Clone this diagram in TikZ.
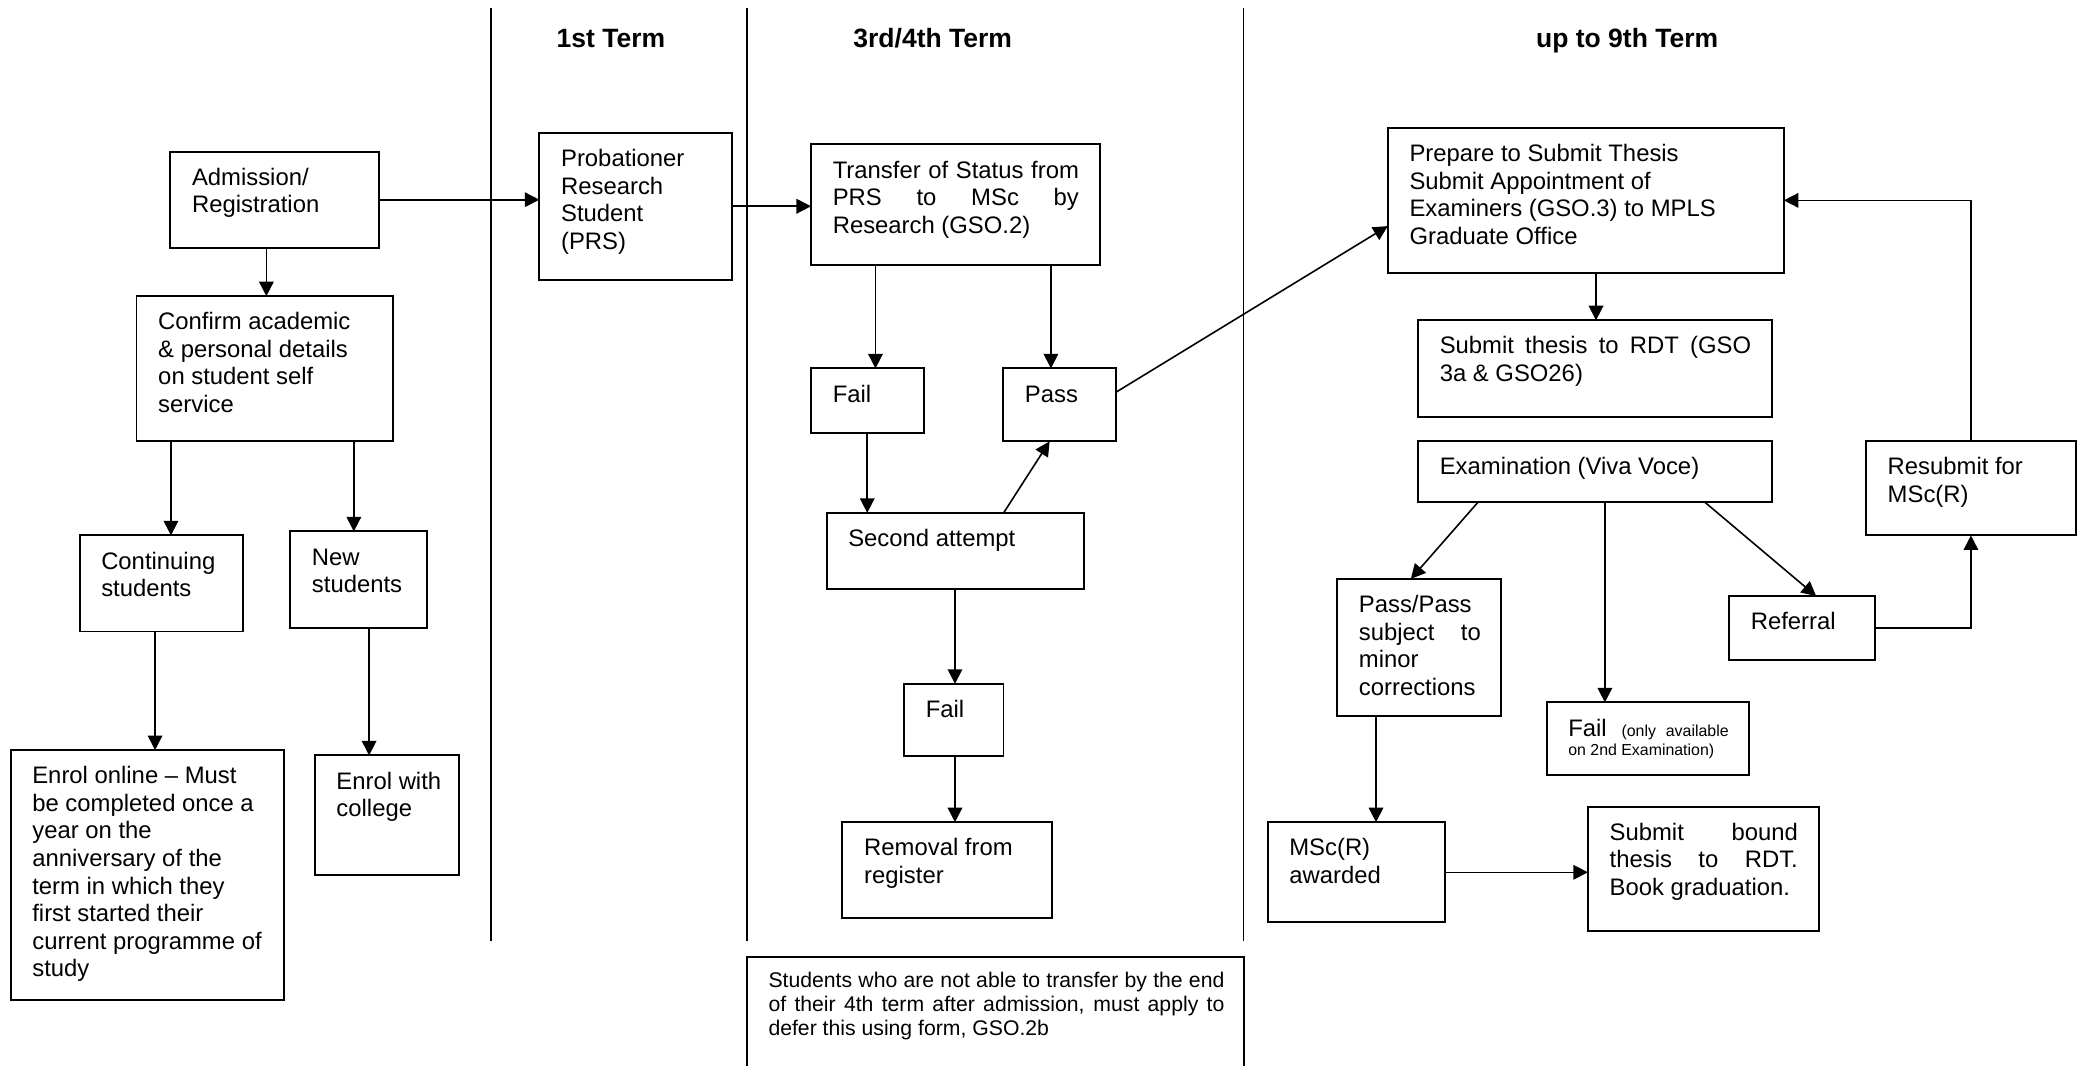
\documentclass[tikz,border=0pt]{standalone}
\usepackage{fontspec}
\setmainfont{Liberation Sans}
\usetikzlibrary{arrows.meta}
\newcommand\mkbox[5]{%
  \pgfmathsetmacro\mkboxw{(#4-#2)*0.5}%
  \pgfmathsetmacro\mkboxh{(#5-#3)*0.5}%
  \node[boxst, minimum width=\mkboxw pt, minimum height=\mkboxh pt, anchor=north west] (#1) at (#2,#3) {};}
\newcommand\mktext[3]{\node[txt] (#1) at ([xshift=8pt,yshift=-5.5pt]#2.north west) {\rule{0pt}{7pt}#3};}
\newcommand\jline[2]{\makebox[#1][s]{#2}}
\begin{document}
\begin{tikzpicture}[x=0.5pt,y=-0.5pt,
  boxst/.style={draw, line width=0.75pt, inner sep=0pt, outer sep=0pt},
  txt/.style={anchor=north west, inner sep=0pt, align=left, font=\fontsize{9}{10.4}\selectfont},
  head/.style={anchor=base, inner sep=0pt, font=\fontsize{10}{12}\selectfont\bfseries},
  divider/.style={line width=0.55pt},
  conn/.style={line width=0.6pt, -{Triangle[length=5.5pt,width=5.5pt]}},
  plain/.style={line width=0.6pt}]
\fill[white] (0,0) rectangle (1568,804);
\useasboundingbox (0,0) rectangle (1568,804);

% dividers
\draw[divider] (370.4,5.7) -- (370.4,710.3);
\draw[divider] (563.5,5.7) -- (563.5,710.3);
\draw[divider] (938.4,5.7) -- (938.4,710.3);

% headings
\node[head] (h1) at (461,35.7) {1st Term};
\node[head] (h2) at (703.8,35.7) {3rd/4th Term};
\node[head] (h3) at (1227.8,35.7) {up to 9th Term};

% boxes
\mkbox{adm}{128.5}{114.4}{286}{187}
\mkbox{prs}{407}{100.3}{552}{211}
\mkbox{tr}{612}{109}{829.7}{200}
\mkbox{prep}{1047.2}{96.6}{1346}{205.8}
\mkbox{conf}{103}{223.5}{296.5}{332.5}
\mkbox{cont}{60}{404}{183}{476.5}
\mkbox{new}{219}{401}{322.5}{474}
\mkbox{enon}{8}{566}{214}{754.6}
\mkbox{enco}{237.5}{570}{346.6}{660}
\mkbox{fa}{612}{278}{697}{327}
\mkbox{pass}{757}{278}{842}{333}
\mkbox{sec}{623.7}{387}{817.6}{444.6}
\mkbox{fb}{682.2}{516}{757.2}{570.4}
\mkbox{rem}{635.7}{620.4}{793.5}{692.6}
\mkbox{sub}{1070}{241.7}{1337}{314.7}
\mkbox{exam}{1070}{332.7}{1337}{379}
\mkbox{resub}{1408}{332.7}{1566.4}{404}
\mkbox{pp}{1009}{436.8}{1132.6}{540.2}
\mkbox{ref}{1304.7}{449.8}{1414.5}{498.3}
\mkbox{fx}{1167}{530}{1320}{584.5}
\mkbox{msc}{956.5}{620.4}{1090.5}{696}
\mkbox{bnd}{1198.2}{608.7}{1372.4}{702.5}
\mkbox{note}{563.5}{722}{938.4}{830}

% texts
\mktext{tadm}{adm}{Admission/\\Registration}
\mktext{tprs}{prs}{Probationer\\Research\\Student\\(PRS)}
\mktext{ttr}{tr}{\jline{92.85pt}{Transfer of Status from}\\\jline{92.85pt}{PRS to MSc by}\\Research (GSO.2)}
\mktext{tprep}{prep}{Prepare to Submit Thesis\\Submit Appointment of\\Examiners (GSO.3) to MPLS\\Graduate Office}
\mktext{tconf}{conf}{Confirm academic\\\& personal details\\on student self\\service}
\mktext{tcont}{cont}{Continuing\\students}
\mktext{tnew}{new}{New\\students}
\mktext{tenon}{enon}{Enrol online – Must\\be completed once a\\year on the\\anniversary of the\\term in which they\\first started their\\current programme of\\study}
\mktext{tenco}{enco}{Enrol with\\college}
\mktext{tfa}{fa}{Fail}
\mktext{tpass}{pass}{Pass}
\mktext{tsec}{sec}{Second attempt}
\mktext{tfb}{fb}{Fail}
\mktext{trem}{rem}{Removal from\\register}
\mktext{tsub}{sub}{\jline{117.5pt}{Submit thesis to RDT (GSO}\\3a \& GSO26)}
\mktext{texam}{exam}{Examination (Viva Voce)}
\mktext{tresub}{resub}{Resubmit for\\MSc(R)}
\mktext{tpp}{pp}{Pass/Pass\\\jline{46pt}{subject to}\\minor\\corrections}
\mktext{tref}{ref}{Referral}
\mktext{tfx}{fx}{\jline{60.5pt}{Fail {\fontsize{6}{7}\selectfont (only available}}\\[-3.25pt]{\fontsize{6}{7}\selectfont on 2nd Examination)}}
\mktext{tmsc}{msc}{MSc(R)\\awarded}
\mktext{tbnd}{bnd}{\jline{71pt}{Submit bound}\\\jline{71pt}{thesis to RDT.}\\Book graduation.}
\node[txt, font=\fontsize{8}{9}\selectfont] (tnote) at ([xshift=8pt,yshift=-4.85pt]note.north west)
  {\rule{0pt}{6.5pt}\jline{172pt}{Students who are not able to transfer by the end}\\\jline{172pt}{of their 4th term after admission, must apply to}\\defer this using form, GSO.2b};

% connectors
\draw[conn] (adm.east) -- (adm.east -| prs.west);
\draw[conn] (prs.east) -- (prs.east -| tr.west);
\draw[conn] (201,0 |- adm.south) -- (201,0 |- conf.north);
\draw[conn] (129,0 |- conf.south) -- (129,0 |- cont.north);
\draw[conn] (267,0 |- conf.south) -- (267,0 |- new.north);
\draw[conn] (117,0 |- cont.south) -- (117,0 |- enon.north);
\draw[conn] (278.5,0 |- new.south) -- (278.5,0 |- enco.north);
\draw[conn] (660.6,0 |- tr.south) -- (660.6,0 |- fa.north);
\draw[conn] (793,0 |- tr.south) -- (793,0 |- pass.north);
\draw[conn] (654.4,0 |- fa.south) -- (654.4,0 |- sec.north);
\draw[conn] (757.3,0 |- sec.north) -- (792,0 |- pass.south);
\draw[conn] (720.6,0 |- sec.south) -- (720.6,0 |- fb.north);
\draw[conn] (720.6,0 |- fb.south) -- (720.6,0 |- rem.north);
\draw[conn] (pass.east |- 0,296) -- (prep.west |- 0,170.6);
\draw[conn] (1204.3,0 |- prep.south) -- (1204.3,0 |- sub.north);
\draw[conn] (1115.2,0 |- exam.south) -- (1064.6,0 |- pp.north);
\draw[conn] (1211,0 |- exam.south) -- (1211,0 |- fx.north);
\draw[conn] (1286.5,0 |- exam.south) -- (1370.4,0 |- ref.north);
\draw[conn] (ref.east) -| (resub.south);
\draw[conn] (resub.north) |- (prep.east);
\draw[conn] (1038.3,0 |- pp.south) -- (1038.3,0 |- msc.north);
\draw[conn] (msc.east) -- (msc.east -| bnd.west);
\end{tikzpicture}
\end{document}
